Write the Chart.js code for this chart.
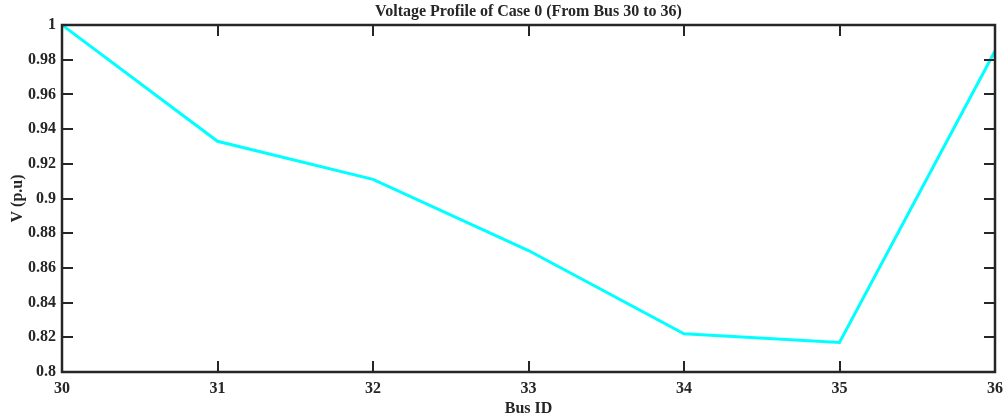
<!DOCTYPE html>
<html>
<head>
<meta charset="utf-8">
<script src="https://cdn.jsdelivr.net/npm/chart.js@4"></script>
<style>
  html, body { margin: 0; padding: 0; background: #fff; }
  #wrap { width: 1005px; height: 418px; }
</style>
</head>
<body>
<div id="wrap"><canvas id="chart" width="1005" height="418"></canvas></div>
<script>
// Datos
const buses = [30, 31, 32, 33, 34, 35, 36];
const voltajes = [1.0, 0.933, 0.911, 0.870, 0.822, 0.817, 0.985];
const yTicks = [0.8, 0.82, 0.84, 0.86, 0.88, 0.9, 0.92, 0.94, 0.96, 0.98, 1];
const titulo = 'Voltage Profile of Case 0 (From Bus 30 to 36)';

const fuente = 'Liberation Serif, "Times New Roman", serif';
const negro = '#262626';

// Marco con ticks hacia adentro (estilo MATLAB) + título centrado en el área del gráfico
const marcoMatlab = {
  id: 'marcoMatlab',
  afterDraw(chart) {
    const { ctx, chartArea: a, scales } = chart;
    const len = 11;
    ctx.save();
    ctx.strokeStyle = negro;
    ctx.lineWidth = 2;
    ctx.beginPath();
    yTicks.forEach(v => {
      const y = Math.round(scales.y.getPixelForValue(v));
      ctx.moveTo(a.left, y); ctx.lineTo(a.left + len, y);
      ctx.moveTo(a.right, y); ctx.lineTo(a.right - len, y);
    });
    buses.forEach(v => {
      const x = Math.round(scales.x.getPixelForValue(v));
      ctx.moveTo(x, a.bottom); ctx.lineTo(x, a.bottom - len);
      ctx.moveTo(x, a.top); ctx.lineTo(x, a.top + len);
    });
    ctx.stroke();
    ctx.lineWidth = 2.5;
    ctx.strokeRect(a.left, a.top, a.right - a.left, a.bottom - a.top);

    ctx.fillStyle = negro;
    ctx.font = 'bold 16px ' + fuente;
    ctx.textAlign = 'center';
    ctx.textBaseline = 'middle';
    ctx.fillText(titulo, (a.left + a.right) / 2, 12);
    ctx.restore();
  }
};

new Chart(document.getElementById('chart').getContext('2d'), {
  type: 'line',
  data: {
    datasets: [{
      data: buses.map((b, i) => ({ x: b, y: voltajes[i] })),
      borderColor: '#00FFFF',
      borderWidth: 3,
      pointRadius: 0,
      tension: 0,
      fill: false
    }]
  },
  options: {
    responsive: false,
    animation: false,
    layout: { padding: { left: 0, right: 10, top: 25, bottom: 0 } },
    plugins: {
      legend: { display: false },
      tooltip: { enabled: false },
      title: { display: false }
    },
    scales: {
      x: {
        type: 'linear',
        min: 30, max: 36,
        afterFit: s => { s.height = 46; s.paddingRight = 0; },
        afterBuildTicks: s => { s.ticks = buses.map(v => ({ value: v })); },
        grid: { display: false, drawTicks: false },
        border: { display: false },
        ticks: { color: negro, padding: 7, font: { family: fuente, size: 16, weight: 'bold' } },
        title: {
          display: true, text: 'Bus ID', color: negro, padding: { top: 0, bottom: 0 },
          font: { family: fuente, size: 16, weight: 'bold' }
        }
      },
      y: {
        min: 0.8, max: 1,
        afterFit: s => { s.width = 62; },
        afterBuildTicks: s => { s.ticks = yTicks.map(v => ({ value: v })); },
        grid: { display: false, drawTicks: false },
        border: { display: false },
        ticks: {
          color: negro, padding: 6,
          font: { family: fuente, size: 16, weight: 'bold' },
          callback: v => String(+v.toFixed(2))
        },
        title: {
          display: true, text: 'V (p.u)', color: negro, padding: { top: 8, bottom: 0 },
          font: { family: fuente, size: 16, weight: 'bold' }
        }
      }
    }
  },
  plugins: [marcoMatlab]
});
</script>
</body>
</html>
